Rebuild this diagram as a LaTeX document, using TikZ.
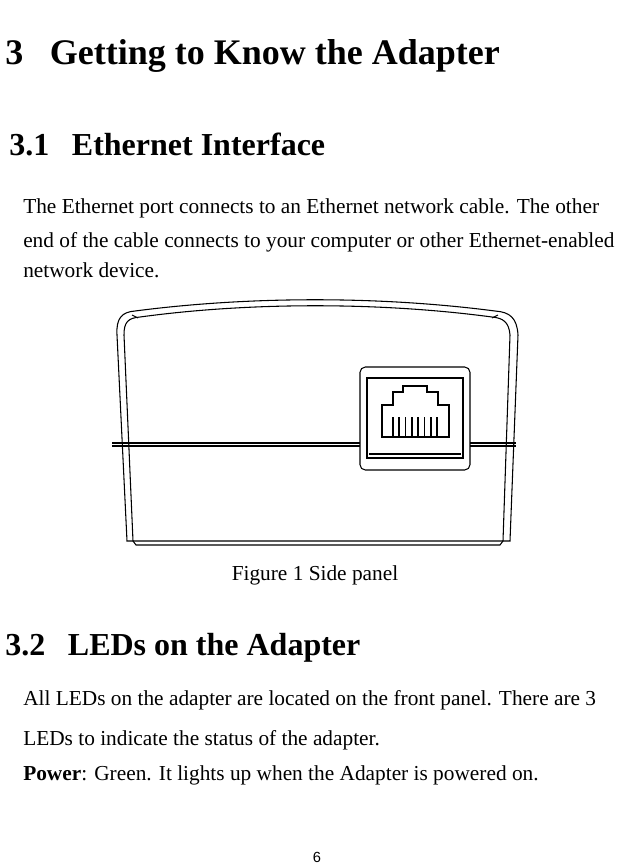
\documentclass[tikz,border=0pt]{standalone}
\usepackage{fontspec}
\setmainfont{Liberation Serif}
\newfontfamily\pagefont{Liberation Sans}
\begin{document}
\begin{tikzpicture}[x=0.75pt,y=-0.75pt,
  head/.style={anchor=base west,inner sep=0,font=\bfseries\fontsize{27}{31}\selectfont},
  subhead/.style={anchor=base west,inner sep=0,font=\bfseries\fontsize{24}{28}\selectfont},
  body/.style={anchor=base west,inner sep=0,font=\fontsize{16}{19}\selectfont},
  ln/.style={line width=0.8pt,black}]
\useasboundingbox (0,0) rectangle (632,865);
\node[head] (h3) at (5,64) {3\hspace{20pt}Getting to Know the Adapter};
\node[subhead] (h31) at (9,155) {3.1\hspace{17pt}Ethernet Interface};
\node[body] (p1) at (23,213) {The Ethernet port connects to an Ethernet network cable. The other};
\node[body] (p2) at (23,247) {end of the cable connects to your computer or other Ethernet-enabled};
\node[body] (p3) at (23,277) {network device.};
% adapter drawing
\draw[ln] (127,541) -- (117,335) .. controls (116,318) and (122,312) .. (135,311)
  .. controls (250,296) and (380,296) .. (495,311)
  .. controls (510,312) and (517,318) .. (518,335) -- (510,541) -- cycle;
\draw[ln] (133,541) -- (124,335) .. controls (124,322) and (128,318) .. (140,317)
  .. controls (250,302) and (380,302) .. (492,317)
  .. controls (503,318) and (509,322) .. (510,335) -- (503,541);
\draw[ln] (138,318) -- (132,315);
\draw[ln] (492,318) -- (498,315);
\draw[ln] (133,541) -- (136,545) -- (500,545) -- (503,541);
\draw[ln] (112,443) -- (360,443);
\draw[ln] (112,446) -- (360,446);
\draw[ln] (470,443) -- (516,443);
\draw[ln] (470,446) -- (516,446);
\draw[ln,rounded corners=4] (360,367) rectangle (470,470);
\draw[ln] (367,378) rectangle (463,458);
\draw[ln] (369,454) -- (461,454);
\draw[ln] (382,437) -- (382,405) -- (393,405) -- (393,392) -- (403,392) -- (403,386)
  -- (427,386) -- (427,392) -- (438,392) -- (438,405) -- (449,405) -- (449,437) -- cycle;
\foreach \i in {0,...,7} \draw[line width=1.3pt] ({393+\i*6.3},417) -- ({393+\i*6.3},437);
\node[body,anchor=base] (cap) at (315,580) {Figure 1 Side panel};
\node[subhead] (h32) at (5,655) {3.2\hspace{17pt}LEDs on the Adapter};
\node[body] (q1) at (23,705) {All LEDs on the adapter are located on the front panel. There are 3};
\node[body] (q2) at (23,745) {LEDs to indicate the status of the adapter.};
\node[body] (q3) at (23,780) {\textbf{Power}: Green. It lights up when the Adapter is powered on.};
\node[anchor=base,inner sep=0,font=\pagefont\fontsize{11}{13}\selectfont] (pg) at (317,862) {6};
\end{tikzpicture}
\end{document}
